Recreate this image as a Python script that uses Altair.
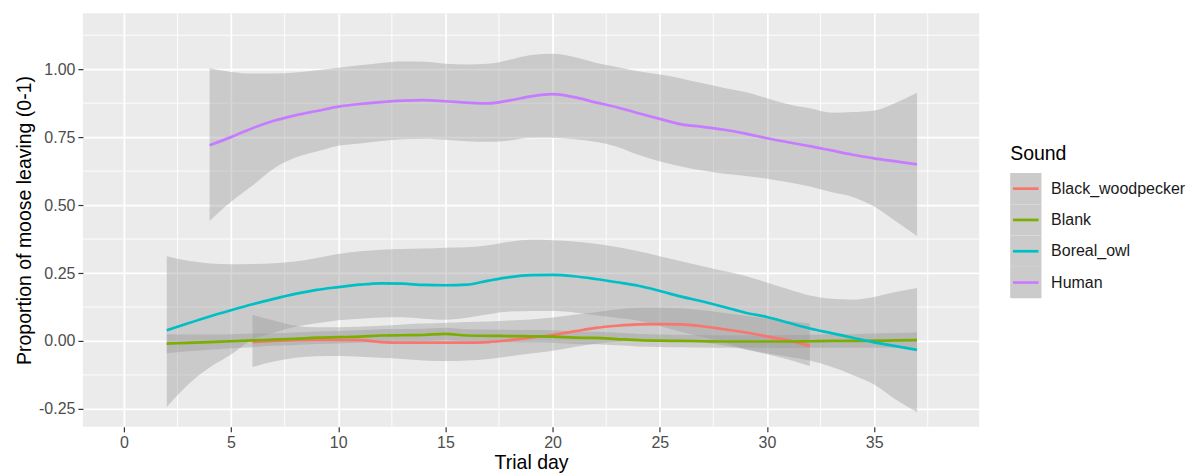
import altair as alt
import pandas as pd

FONT = "Liberation Sans"

sounds = ["Black_woodpecker", "Blank", "Boreal_owl", "Human"]
palette = ["#F8766D", "#7CAE00", "#00BFC4", "#C77CFF"]

# Black_woodpecker smooth (fit, lower, upper)
bw_day = list(range(6, 33))
bw_fit = [-0.004, 0.000, 0.003, 0.004, 0.004, 0.003, -0.004, -0.006, -0.006, -0.006, -0.006, -0.004,
          0.003, 0.012, 0.022, 0.035, 0.048, 0.056, 0.061, 0.062, 0.061, 0.054, 0.043, 0.031, 0.017,
          0.002, -0.018]
bw_hi = [0.096, 0.075, 0.056, 0.050, 0.050, 0.052, 0.056, 0.061, 0.064, 0.067, 0.070, 0.072, 0.075,
         0.079, 0.086, 0.096, 0.106, 0.116, 0.122, 0.122, 0.120, 0.113, 0.103, 0.093, 0.083, 0.073, 0.064]
bw_lo = [-0.096, -0.076, -0.062, -0.056, -0.055, -0.058, -0.062, -0.066, -0.072, -0.074, -0.072, -0.066,
         -0.056, -0.046, -0.036, -0.022, -0.010, -0.003, 0.000, 0.002, 0.000, -0.006, -0.017, -0.031,
         -0.049, -0.068, -0.092]

# Blank
bl_day = list(range(2, 38))
bl_fit = [-0.010, -0.007, -0.004, -0.001, 0.002, 0.005, 0.008, 0.012, 0.014, 0.016, 0.020, 0.021, 0.022,
          0.026, 0.020, 0.019, 0.018, 0.017, 0.016, 0.012, 0.011, 0.007, 0.003, 0.001, 0.000, -0.001,
          -0.002, -0.002, -0.002, -0.002, -0.001, 0.000, 0.000, 0.001, 0.002, 0.003]
bl_hi = [0.025, 0.024, 0.024, 0.025, 0.027, 0.028, 0.031, 0.035, 0.037, 0.039, 0.043, 0.044, 0.045, 0.049,
         0.043, 0.042, 0.041, 0.040, 0.039, 0.035, 0.034, 0.030, 0.026, 0.024, 0.023, 0.022, 0.021, 0.021,
         0.021, 0.022, 0.023, 0.025, 0.025, 0.027, 0.029, 0.031]
bl_lo = [-0.045, -0.038, -0.032, -0.027, -0.023, -0.018, -0.015, -0.011, -0.009, -0.007, -0.003, -0.002,
         -0.001, 0.003, -0.003, -0.004, -0.005, -0.006, -0.007, -0.011, -0.012, -0.016, -0.020, -0.022,
         -0.023, -0.024, -0.025, -0.025, -0.025, -0.026, -0.025, -0.025, -0.025, -0.025, -0.025, -0.025]

# Boreal_owl
bo_day = list(range(2, 38))
bo_fit = [0.039, 0.065, 0.090, 0.113, 0.135, 0.155, 0.173, 0.188, 0.198, 0.207, 0.212, 0.211, 0.206,
          0.205, 0.207, 0.222, 0.235, 0.242, 0.243, 0.238, 0.228, 0.216, 0.203, 0.184, 0.163, 0.145,
          0.125, 0.104, 0.088, 0.067, 0.046, 0.029, 0.012, -0.005, -0.019, -0.033]
bo_hi = [0.312, 0.295, 0.285, 0.282, 0.283, 0.286, 0.292, 0.305, 0.320, 0.330, 0.336, 0.338, 0.340,
         0.343, 0.345, 0.352, 0.365, 0.372, 0.371, 0.366, 0.358, 0.346, 0.330, 0.312, 0.293, 0.275,
         0.257, 0.239, 0.215, 0.190, 0.167, 0.155, 0.152, 0.162, 0.180, 0.195]
bo_lo = [-0.243, -0.160, -0.098, -0.050, 0.005, 0.030, 0.052, 0.065, 0.076, 0.082, 0.086, 0.087, 0.082,
         0.078, 0.085, 0.098, 0.108, 0.110, 0.110, 0.105, 0.095, 0.085, 0.074, 0.055, 0.033, 0.015,
         -0.005, -0.030, -0.045, -0.058, -0.072, -0.095, -0.125, -0.160, -0.215, -0.262]

# Human
hu_day = list(range(4, 38))
hu_fit = [0.720, 0.750, 0.783, 0.810, 0.830, 0.846, 0.862, 0.872, 0.879, 0.884, 0.886, 0.882, 0.877,
          0.874, 0.885, 0.900, 0.908, 0.897, 0.878, 0.860, 0.838, 0.817, 0.797, 0.788, 0.777, 0.763,
          0.746, 0.731, 0.717, 0.701, 0.685, 0.672, 0.661, 0.650]
hu_hi = [1.003, 0.990, 0.984, 0.984, 0.988, 0.996, 1.005, 1.014, 1.023, 1.028, 1.027, 1.020, 1.017,
         1.020, 1.035, 1.052, 1.057, 1.045, 1.024, 1.008, 0.992, 0.980, 0.966, 0.948, 0.931, 0.916,
         0.893, 0.871, 0.856, 0.840, 0.842, 0.848, 0.876, 0.913]
hu_lo = [0.441, 0.512, 0.572, 0.635, 0.675, 0.697, 0.718, 0.727, 0.736, 0.742, 0.744, 0.740, 0.735,
         0.733, 0.738, 0.748, 0.748, 0.742, 0.733, 0.715, 0.685, 0.660, 0.642, 0.627, 0.615, 0.607,
         0.597, 0.584, 0.568, 0.548, 0.530, 0.495, 0.441, 0.386]

major_x = [0, 5, 10, 15, 20, 25, 30, 35]
minor_x = [2.5, 7.5, 12.5, 17.5, 22.5, 27.5, 32.5, 37.5]
major_y = [-0.25, 0.0, 0.25, 0.5, 0.75, 1.0]
minor_y = [-0.125, 0.125, 0.375, 0.625, 0.875, 1.125]

rows = []
for name, days, fit, lo, hi in [
    ("Black_woodpecker", bw_day, bw_fit, bw_lo, bw_hi),
    ("Blank", bl_day, bl_fit, bl_lo, bl_hi),
    ("Boreal_owl", bo_day, bo_fit, bo_lo, bo_hi),
    ("Human", hu_day, hu_fit, hu_lo, hu_hi),
]:
    for d, f, l, h in zip(days, fit, lo, hi):
        rows.append({"Sound": name, "day": d, "fit": f, "lo": l, "hi": h})
df = pd.DataFrame(rows)

x_scale = alt.Scale(domain=[-1.91, 39.9], nice=False, zero=False)
y_scale = alt.Scale(domain=[-0.316, 1.206], nice=False, zero=False)
color_scale = alt.Scale(domain=sounds, range=palette)

x_axis = alt.Axis(values=major_x, title="Trial day", format="d", grid=True, gridColor="#FFFFFF",
                  gridWidth=1.8, domain=False, tickColor="#333333", tickSize=5, tickWidth=1.2,
                  labelColor="#4D4D4D", labelFontSize=16, labelFont=FONT, labelPadding=3,
                  labelFlush=False, labelOverlap=False, titleFont=FONT, titleFontSize=19.5,
                  titleFontWeight="normal", titleColor="#000000", titlePadding=3)
y_axis = alt.Axis(values=major_y, title="Proportion of moose leaving (0-1)",
                  labelExpr="datum.value < 0 ? '-' + format(-datum.value, '.2f') : format(datum.value, '.2f')",
                  grid=True, gridColor="#FFFFFF", gridWidth=1.8, domain=False, tickColor="#333333",
                  tickSize=5, tickWidth=1.2, labelColor="#4D4D4D", labelFontSize=16, labelFont=FONT,
                  labelPadding=3, labelFlush=False, labelOverlap=False, titleFont=FONT,
                  titleFontSize=19.5, titleFontWeight="normal", titleColor="#000000", titlePadding=4)

vminor = alt.Chart(pd.DataFrame({"day": minor_x})).mark_rule(color="#FFFFFF", strokeWidth=0.9).encode(
    x=alt.X("day:Q", scale=x_scale, axis=x_axis)
)
hminor = alt.Chart(pd.DataFrame({"fit": minor_y})).mark_rule(color="#FFFFFF", strokeWidth=0.9).encode(
    y=alt.Y("fit:Q", scale=y_scale, axis=y_axis)
)
bands = alt.Chart(df).mark_area(color="#999999", opacity=0.4, interpolate="monotone").encode(
    x=alt.X("day:Q", scale=x_scale, axis=x_axis),
    y=alt.Y("lo:Q", scale=y_scale, axis=y_axis),
    y2="hi:Q",
    detail="Sound:N",
)
lines = alt.Chart(df).mark_line(strokeWidth=2.7, interpolate="monotone").encode(
    x=alt.X("day:Q", scale=x_scale, axis=x_axis),
    y=alt.Y("fit:Q", scale=y_scale, axis=y_axis),
    color=alt.Color("Sound:N", scale=color_scale, legend=None),
)

main = alt.layer(vminor, hminor, bands, lines).properties(
    width=897, height=414, view=alt.ViewBackground(fill="#EBEBEB", stroke=None)
)

leg_df = pd.DataFrame({"Sound": sounds})
leg_y = alt.Y("Sound:N", scale=alt.Scale(type="point", domain=sounds, range=[175.6, 269.6], padding=0),
              axis=None)
keys = alt.Chart(leg_df).mark_square(size=31.3 * 31.3, color="#CBCBCB", opacity=1).encode(
    x=alt.value(15.7), y=leg_y
)
strokes = alt.Chart(leg_df).mark_rule(strokeWidth=2.7).encode(
    x=alt.value(2.8), x2=alt.value(28.4), y=leg_y,
    color=alt.Color("Sound:N", scale=color_scale, legend=None),
)
labels = alt.Chart(leg_df).mark_text(align="left", baseline="middle", fontSize=16, font=FONT,
                                     color="#1A1A1A").encode(
    x=alt.value(41), y=leg_y, text="Sound:N"
)
leg_title = alt.Chart(pd.DataFrame({"t": ["Sound"]})).mark_text(
    align="left", baseline="middle", fontSize=19.5, font=FONT, color="#000000"
).encode(x=alt.value(0), y=alt.value(141), text="t:N")

legend = alt.layer(keys, strokes, labels, leg_title).properties(
    width=172, height=414, view=alt.ViewBackground(fill=None, stroke=None)
)

chart = alt.hconcat(main, legend, spacing=30).properties(
    padding={"left": 6, "top": 4, "right": 0, "bottom": 0}, background="#FFFFFF"
).configure_view(stroke=None)

chart.save("out.html", embed_options={"renderer": "svg", "actions": False})
